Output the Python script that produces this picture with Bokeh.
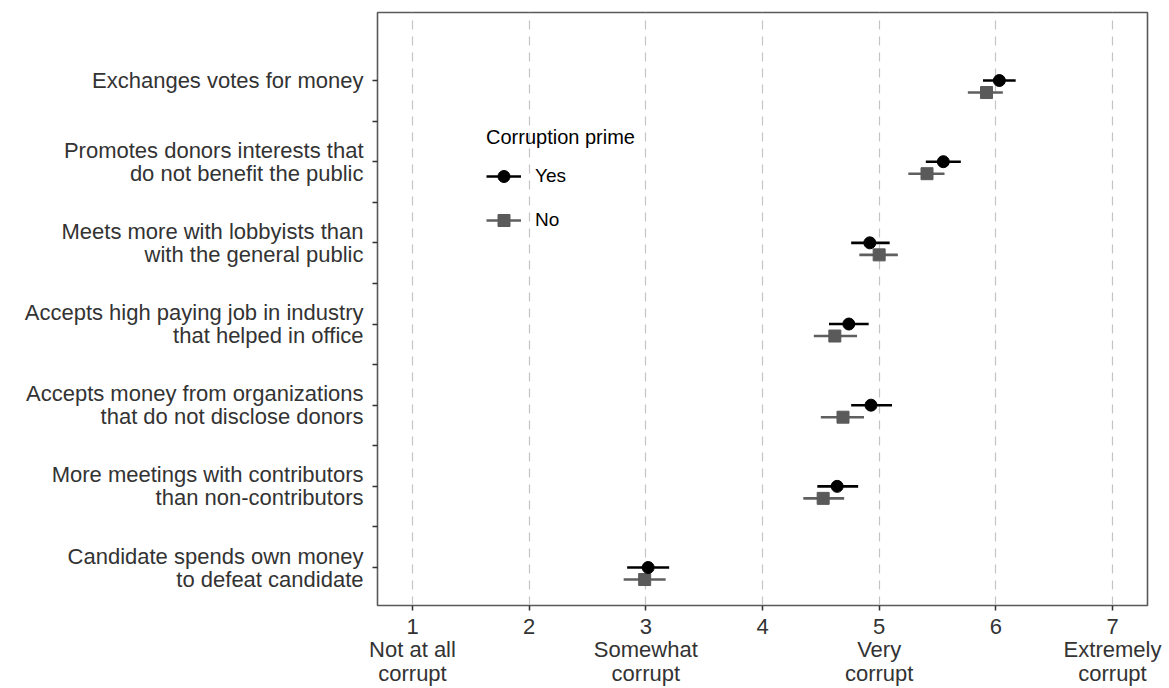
from bokeh.plotting import figure
from bokeh.models import Range1d, FixedTicker, Legend, LegendItem
from bokeh.embed import file_html
from bokeh.resources import INLINE

# ---- data ----
items = [
    "Exchanges votes for money",
    "Promotes donors interests that\ndo not benefit the public",
    "Meets more with lobbyists than\nwith the general public",
    "Accepts high paying job in industry\nthat helped in office",
    "Accepts money from organizations\nthat do not disclose donors",
    "More meetings with contributors\nthan non-contributors",
    "Candidate spends own money\nto defeat candidate",
]
item_pos = [7, 6, 5, 4, 3, 2, 1]

yes_mean = [6.03, 5.55, 4.92, 4.74, 4.93, 4.64, 3.02]
yes_lo = [5.89, 5.40, 4.76, 4.57, 4.76, 4.47, 2.84]
yes_hi = [6.17, 5.70, 5.09, 4.91, 5.11, 4.82, 3.20]

no_mean = [5.92, 5.41, 5.00, 4.62, 4.69, 4.52, 2.99]
no_lo = [5.76, 5.25, 4.83, 4.44, 4.50, 4.35, 2.81]
no_hi = [6.06, 5.56, 5.16, 4.81, 4.87, 4.70, 3.17]

x_ticks = [1, 2, 3, 4, 5, 6, 7]
x_labels = ["1\nNot at all\ncorrupt", "2", "3\nSomewhat\ncorrupt", "4",
            "5\nVery\ncorrupt", "6", "7\nExtremely\ncorrupt"]
legend_title = "Corruption prime"
series_names = ["Yes", "No"]
no_offset = 0.148

FONT = "Liberation Sans"
TXT = "#333333"

p = figure(width=1167, height=683, output_backend="svg", toolbar_location=None,
           x_range=Range1d(0.7, 7.3), y_range=Range1d(0.532, 7.838),
           frame_width=770, frame_height=593,
           min_border_left=377, min_border_top=12, min_border_right=20,
           min_border_bottom=78)
p.background_fill_color = "white"
p.border_fill_color = "white"
p.outline_line_color = "#5a5a5a"
p.outline_line_width = 1.6

# axes
p.xaxis.ticker = FixedTicker(ticks=x_ticks)
p.xaxis.major_label_overrides = {t: l for t, l in zip(x_ticks, x_labels)}
p.yaxis.ticker = FixedTicker(ticks=item_pos,
                             minor_ticks=[v + 0.5 for v in item_pos[1:]])
p.yaxis.major_label_overrides = {t: l for t, l in zip(item_pos, items)}
for ax in (p.xaxis[0], p.yaxis[0]):
    ax.axis_line_color = None
    ax.major_tick_line_color = "#333333"
    ax.major_tick_line_width = 1.5
    ax.major_tick_in = 0
    ax.major_tick_out = 5
    ax.major_label_text_font = FONT
    ax.major_label_text_font_size = "22px"
    ax.major_label_text_color = TXT
p.xaxis.major_label_text_line_height = 0.95
p.yaxis.major_label_text_line_height = 0.92
p.xaxis.minor_tick_line_color = None
p.xaxis.major_label_standoff = 3
p.yaxis.minor_tick_line_color = "#333333"
p.yaxis.minor_tick_line_width = 1.5
p.yaxis.minor_tick_in = 0
p.yaxis.minor_tick_out = 5
p.yaxis.major_label_standoff = 9

p.xgrid.ticker = FixedTicker(ticks=x_ticks)
p.xgrid.grid_line_color = "#c4c4c4"
p.xgrid.grid_line_dash = "9 7"
p.xgrid.grid_line_width = 1.2
p.ygrid.visible = False

# data glyphs
no_y = [v - no_offset for v in item_pos]
seg_no = p.segment(x0=no_lo, x1=no_hi, y0=no_y, y1=no_y,
                   line_color="#5f5f5f", line_width=2.6)
pt_no = p.scatter(x=no_mean, y=no_y, marker="square", size=12,
                  fill_color="#5a5a5a", line_color="#5a5a5a")
seg_yes = p.segment(x0=yes_lo, x1=yes_hi, y0=item_pos, y1=item_pos,
                    line_color="black", line_width=2.6)
pt_yes = p.scatter(x=yes_mean, y=item_pos, marker="circle", size=12,
                   fill_color="black", line_color="black")

legend = Legend(items=[LegendItem(label=series_names[0], renderers=[seg_yes, pt_yes]),
                       LegendItem(label=series_names[1], renderers=[seg_no, pt_no])],
                location=(109, 370), title=legend_title,
                title_text_font=FONT, title_text_font_size="20px",
                title_text_color="black", title_text_font_style="normal",
                title_standoff=12,
                label_text_font=FONT, label_text_font_size="19px",
                label_text_color="black",
                glyph_width=35, glyph_height=30, label_standoff=14,
                spacing=14, padding=0, margin=0,
                border_line_alpha=0, background_fill_alpha=0)
p.add_layout(legend)

open("out.html", "w").write(file_html(p, INLINE))
